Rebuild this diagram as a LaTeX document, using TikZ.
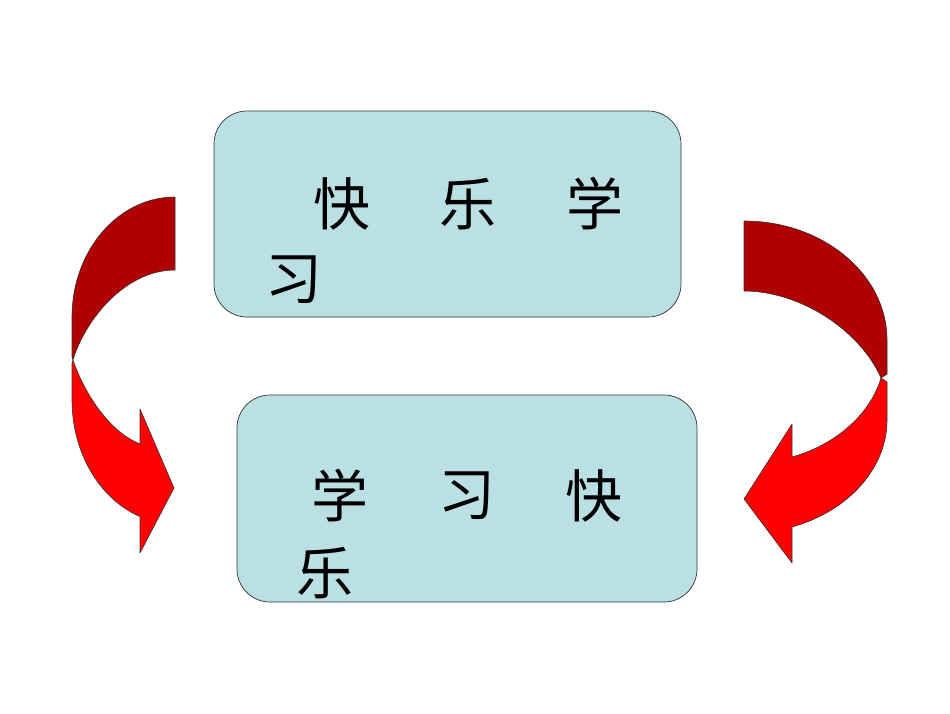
\documentclass[tikz,border=0pt]{standalone}
\usepackage{fontspec}
\newfontfamily\cjk{Noto Sans CJK SC}
\definecolor{boxfill}{HTML}{BBE0E3}
\definecolor{arrowback}{HTML}{B00000}
\definecolor{arrowfront}{HTML}{FF0000}
\begin{document}
\begin{tikzpicture}[x=1pt,y=-1pt,
  box/.style={draw=black!80,line width=0.7pt,fill=boxfill,rounded corners=33pt,inner sep=0pt},
  ch/.style={inner sep=0pt,font=\cjk\fontsize{57pt}{57pt}\selectfont},
  backpart/.style={fill=arrowback,draw=black!80,line width=0.6pt,line join=round},
  frontpart/.style={fill=arrowfront,draw=black!80,line width=0.6pt,line join=round}]
\useasboundingbox (0,0) rectangle (950,713);
\fill[white] (0,0) rectangle (950,713);

% boxes
\node[box,minimum width=467pt,minimum height=206pt] (topbox) at (447.5,214) {};
\node[box,minimum width=460pt,minimum height=207pt] (botbox) at (467,498.5) {};

% top box text
\node[ch] (t1) at (342,204) {快};
\node[ch] (t2) at (468,204) {乐};
\node[ch] (t3) at (595,204) {学};
\node[ch] (t4) at (294,280) {习};

% bottom box text
\node[ch] (b1) at (340,496) {学};
\node[ch] (b2) at (467,496) {习};
\node[ch] (b3) at (594,496) {快};
\node[ch] (b4) at (325,573) {乐};

% left curved arrow
\coordinate (lx) at (73,360);
\filldraw[backpart] (175,197) arc[start angle=-90,end angle=-180,x radius=103,y radius=120]
  -- (72,357) -- (lx) .. controls (85,320) and (125,270) .. (175,270) -- cycle;
\filldraw[frontpart] (lx) .. controls (85,395) and (110,432) .. (140,444)
  -- (140,409) -- (174,488) -- (140,553) -- (140,516.6)
  arc[start angle=109.87,end angle=180,x radius=103,y radius=124] -- (72,363) -- cycle;

% right curved arrow
\coordinate (rx) at (881,378);
\filldraw[backpart] (744,221) arc[start angle=-90,end angle=0,x radius=143,y radius=119]
  -- (887,374) -- (rx) .. controls (860,330) and (800,291) .. (744,291) -- cycle;
\filldraw[frontpart] (rx) .. controls (870,415) and (835,445) .. (792,457)
  -- (792,424) -- (744,499) -- (792,563) -- (792,527)
  arc[start angle=70.39,end angle=0,x radius=143,y radius=113.6] -- (887,382) -- cycle;
\end{tikzpicture}
\end{document}
